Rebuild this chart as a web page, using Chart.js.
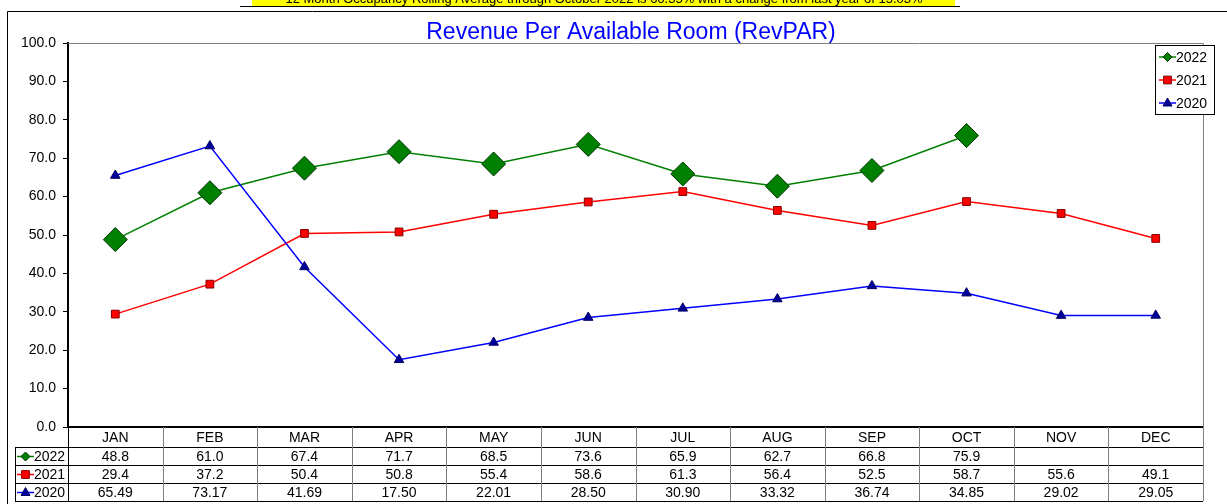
<!DOCTYPE html>
<html>
<head>
<meta charset="utf-8">
<script src="https://cdn.jsdelivr.net/npm/chart.js@4.4.1/dist/chart.umd.min.js"></script>
<style>
  html, body { margin: 0; padding: 0; background: #fff; }
  #wrap { position: relative; width: 1227px; height: 504px; }
</style>
</head>
<body>
<div id="wrap"><canvas id="myChart" width="1227" height="504"></canvas></div>
<script>
    const months = ["JAN", "FEB", "MAR", "APR", "MAY", "JUN", "JUL", "AUG", "SEP", "OCT", "NOV", "DEC"];
    const years = ["2022", "2021", "2020"];
    const values2022 = [48.8, 61.0, 67.4, 71.7, 68.5, 73.6, 65.9, 62.7, 66.8, 75.9, null, null];
    const values2021 = [29.4, 37.2, 50.4, 50.8, 55.4, 58.6, 61.3, 56.4, 52.5, 58.7, 55.6, 49.1];
    const values2020 = [65.49, 73.17, 41.69, 17.50, 22.01, 28.50, 30.90, 33.32, 36.74, 34.85, 29.02, 29.05];
    const yTicks = [0, 10, 20, 30, 40, 50, 60, 70, 80, 90, 100];

    const titleText = "Revenue Per Available Room (RevPAR)";
    const headerText = "12 Month Occupancy Rolling Average through October 2022 is 66.35% with a change from last year of 15.03%";

    // how each series looks (line, marker, decimals in table)
    var looks = {
        "2022": { line: "#008000", fill: "#008000", edge: "#003300", shape: "rectRot", r: 12, keyR: 4.5, dec: 1 },
        "2021": { line: "#ff0000", fill: "#ff0000", edge: "#800000", shape: "rect", r: 5.5, keyR: 5.5, dec: 1 },
        "2020": { line: "#0000ff", fill: "#000099", edge: "#000066", shape: "triangle", r: 5.5, keyR: 5, dec: 2 }
    };
    var tableRows = { "2022": values2022, "2021": values2021, "2020": values2020 };
    var font = "Arial, 'Liberation Sans'";

    function drawMark(ctx, shape, x, y, r, fill, edge) {
        ctx.save();
        ctx.fillStyle = fill;
        ctx.strokeStyle = edge;
        ctx.lineWidth = 1;
        ctx.beginPath();
        if (shape == "rectRot") {
            ctx.moveTo(x - r, y); ctx.lineTo(x, y - r); ctx.lineTo(x + r, y); ctx.lineTo(x, y + r);
        } else if (shape == "rect") {
            var s = r * Math.SQRT1_2;
            ctx.rect(x - s, y - s, 2 * s, 2 * s);
        } else {
            ctx.moveTo(x, y - r); ctx.lineTo(x + r * 0.9, y + r * 0.6); ctx.lineTo(x - r * 0.9, y + r * 0.6);
        }
        ctx.closePath();
        ctx.fill();
        ctx.stroke();
        ctx.restore();
    }

    function drawKey(ctx, year, x, y) {
        var lk = looks[year];
        ctx.save();
        ctx.strokeStyle = lk.line;
        ctx.lineWidth = 1.5;
        ctx.beginPath();
        ctx.moveTo(x, y);
        ctx.lineTo(x + 17, y);
        ctx.stroke();
        ctx.restore();
        drawMark(ctx, lk.shape, x + 8.5, y, lk.keyR, lk.fill, lk.edge);
        ctx.fillStyle = "#000";
        ctx.font = "14px " + font;
        ctx.textAlign = "left";
        ctx.textBaseline = "middle";
        ctx.fillText(year, x + 17, y + 1);
    }

    var extras = {
        id: "extras",
        beforeDraw: function (chart) {
            var ctx = chart.ctx;
            ctx.save();
            // header line, cut at the top like the original
            ctx.fillStyle = "#ffff00";
            ctx.fillRect(252, 0, 703, 6);
            ctx.fillStyle = "#000";
            ctx.font = "13px " + font;
            ctx.textAlign = "center";
            ctx.textBaseline = "alphabetic";
            ctx.fillText(headerText, 604, 3);
            ctx.strokeStyle = "#000";
            ctx.lineWidth = 1;
            ctx.beginPath();
            ctx.moveTo(240, 6.5); ctx.lineTo(960, 6.5);
            ctx.stroke();
            // outer frame
            ctx.beginPath();
            ctx.moveTo(7.5, 504); ctx.lineTo(7.5, 11.5); ctx.lineTo(1227, 11.5);
            ctx.stroke();
            ctx.restore();
        },
        afterDraw: function (chart) {
            var ctx = chart.ctx;
            var area = chart.chartArea;
            var xs = chart.scales.x;
            var step = (area.right - area.left) / months.length;
            ctx.save();

            // title
            ctx.fillStyle = "#0000ff";
            ctx.font = "23px " + font;
            ctx.textAlign = "center";
            ctx.textBaseline = "middle";
            ctx.fillText(titleText, 631, 33);

            // grey top and right of plot
            ctx.strokeStyle = "#808080";
            ctx.lineWidth = 1;
            ctx.beginPath();
            ctx.moveTo(area.left, area.top + 0.5);
            ctx.lineTo(area.right + 0.5, area.top + 0.5);
            ctx.lineTo(area.right + 0.5, area.bottom);
            ctx.stroke();

            // data table
            var rowTops = [area.bottom + 1, 447, 465, 483, 501];
            ctx.strokeStyle = "#000";
            ctx.beginPath();
            for (var i = 1; i < rowTops.length; i++) {
                ctx.moveTo(15, rowTops[i] + 0.5);
                ctx.lineTo(area.right, rowTops[i] + 0.5);
            }
            ctx.moveTo(15.5, rowTops[1]);
            ctx.lineTo(15.5, rowTops[4]);
            ctx.moveTo(area.left + 0.5, area.bottom);
            ctx.lineTo(area.left + 0.5, rowTops[4]);
            ctx.stroke();

            ctx.strokeStyle = "#808080";
            ctx.beginPath();
            for (var c = 1; c <= months.length; c++) {
                var bx = Math.round(area.left + c * step) + 0.5;
                ctx.moveTo(bx, area.bottom);
                ctx.lineTo(bx, rowTops[4]);
            }
            ctx.stroke();

            ctx.fillStyle = "#000";
            ctx.font = "14px " + font;
            ctx.textAlign = "center";
            ctx.textBaseline = "middle";
            months.forEach(function (m, j) {
                var cx = xs.getPixelForValue(j);
                ctx.fillText(m, cx, (rowTops[0] + rowTops[1]) / 2 + 1);
                years.forEach(function (yr, k) {
                    var v = tableRows[yr][j];
                    if (v === null) return;
                    ctx.fillText(v.toFixed(looks[yr].dec), cx, (rowTops[k + 1] + rowTops[k + 2]) / 2 + 1);
                });
            });
            years.forEach(function (yr, k) {
                drawKey(ctx, yr, 17, (rowTops[k + 1] + rowTops[k + 2]) / 2 + 0.5);
            });

            // legend box
            ctx.fillStyle = "#fff";
            ctx.fillRect(1155, 45, 60, 70);
            ctx.strokeStyle = "#000";
            ctx.strokeRect(1155.5, 45.5, 59, 69);
            years.forEach(function (yr, k) {
                drawKey(ctx, yr, 1159, 57 + k * 23);
            });
            ctx.restore();
        }
    };

    function makeSet(year, data) {
        var lk = looks[year];
        return {
            label: year,
            data: data,
            borderColor: lk.line,
            borderWidth: 1.5,
            backgroundColor: lk.fill,
            pointBackgroundColor: lk.fill,
            pointBorderColor: lk.edge,
            pointBorderWidth: 1,
            pointStyle: lk.shape,
            pointRadius: lk.r,
            pointHoverRadius: lk.r,
            tension: 0,
            spanGaps: false
        };
    }

    var ctx = document.getElementById("myChart");

    new Chart(ctx, {
        type: "line",
        data: {
            labels: months,
            datasets: [
                makeSet("2020", values2020),
                makeSet("2021", values2021),
                makeSet("2022", values2022)
            ]
        },
        options: {
            responsive: false,
            animation: false,
            layout: { padding: { top: 43, right: 24, bottom: 0, left: 0 } },
            plugins: {
                legend: { display: false },
                title: { display: false },
                tooltip: { enabled: false }
            },
            scales: {
                x: {
                    type: "category",
                    offset: true,
                    grid: { display: false },
                    border: { color: "#000", width: 2 },
                    ticks: { display: false },
                    afterFit: function (s) { s.height = 77; }
                },
                y: {
                    min: 0,
                    max: 100,
                    afterBuildTicks: function (s) {
                        s.ticks = yTicks.map(function (v) { return { value: v }; });
                    },
                    grid: { drawOnChartArea: false, drawTicks: true, tickLength: 5, color: "#000" },
                    border: { color: "#000", width: 2 },
                    ticks: {
                        color: "#000",
                        padding: 7,
                        font: { family: font, size: 14 },
                        callback: function (v) { return Number(v).toFixed(1); }
                    },
                    afterFit: function (s) { s.width = 68; }
                }
            }
        },
        plugins: [extras]
    })
</script>
</body>
</html>
